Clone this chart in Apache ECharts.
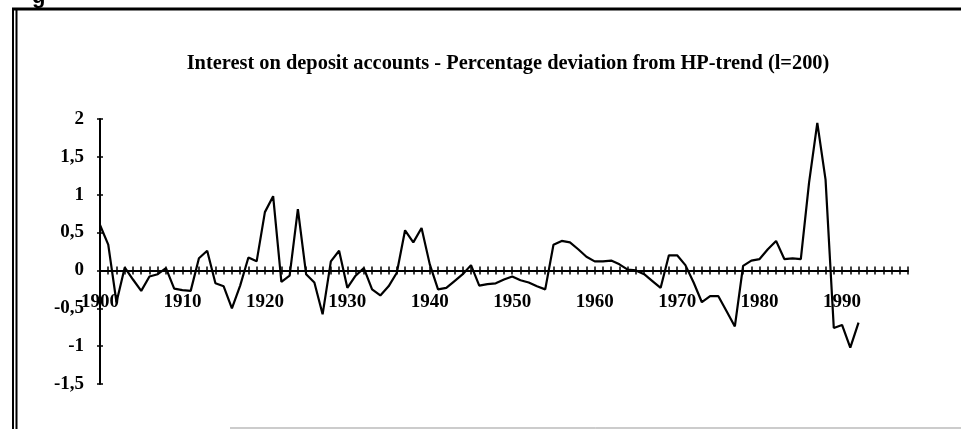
<!DOCTYPE html>
<html><head><meta charset="utf-8">
<script src="https://cdn.jsdelivr.net/npm/echarts@6/dist/echarts.min.js"></script>
<style>html,body{margin:0;padding:0;background:#fff}#c{width:961px;height:429px}</style>
</head><body><div id="c"></div>
<script>
const TITLE = 'Interest on deposit accounts - Percentage deviation from HP-trend (l=200)';
const years = [];
for (let y = 1900; y <= 1992; y++) years.push(y);
const values = [
  0.60, 0.34, -0.42, 0.04, -0.12, -0.27, -0.08, -0.05, 0.03, -0.24,
  -0.26, -0.27, 0.16, 0.26, -0.17, -0.21, -0.50, -0.20, 0.17, 0.12,
  0.77, 0.98, -0.15, -0.07, 0.81, -0.05, -0.16, -0.58, 0.12, 0.26,
  -0.23, -0.07, 0.03, -0.25, -0.33, -0.21, -0.03, 0.53, 0.37, 0.56,
  0.08, -0.25, -0.23, -0.14, -0.05, 0.07, -0.20, -0.18, -0.17, -0.12,
  -0.08, -0.13, -0.16, -0.21, -0.25, 0.34, 0.39, 0.37, 0.28, 0.18,
  0.12, 0.12, 0.13, 0.08, 0.01, 0.00, -0.05, -0.14, -0.23, 0.20,
  0.20, 0.07, -0.16, -0.42, -0.34, -0.34, -0.54, -0.74, 0.06, 0.13,
  0.15, 0.28, 0.39, 0.15, 0.16, 0.15, 1.16, 1.95, 1.20, -0.76,
  -0.72, -1.02, -0.69
];
const xLabels = [1900, 1910, 1920, 1930, 1940, 1950, 1960, 1970, 1980, 1990];
const yTicks = [-1.5, -1, -0.5, 0, 0.5, 1, 1.5, 2];

const serif = '"Liberation Serif", "Times New Roman", serif';
const chart = echarts.init(document.getElementById('c'), null, {renderer: 'canvas'});
const xBase = {
  type: 'value', min: 1900, max: 1998, interval: 1, position: 'bottom',
  splitLine: {show: false}
};
const yBase = {
  type: 'value', min: yTicks[0], max: yTicks[yTicks.length - 1], interval: 0.5, position: 'left',
  splitLine: {show: false}
};
chart.setOption({
  animation: false,
  backgroundColor: '#fff',
  title: {
    text: TITLE, left: 503, textAlign: 'center', top: 49,
    textStyle: {fontFamily: serif, fontWeight: 'bold', fontSize: 20.4, color: '#000'}
  },
  grid: {left: 100, right: 53, top: 119, bottom: 45, containLabel: false, outerBoundsMode: 'none'},
  xAxis: [
    Object.assign({}, xBase, {
      axisLine: {onZero: true, lineStyle: {color: '#000', width: 2}},
      axisTick: {show: true, inside: false, length: 4, lineStyle: {color: '#000', width: 1.5}},
      axisLabel: {
        formatter: v => xLabels.includes(v) ? String(v) : '',
        margin: -91, fontFamily: serif, fontWeight: 'bold', fontSize: 19, color: '#000',
        showMinLabel: true, showMaxLabel: true, hideOverlap: false
      }
    }),
    Object.assign({}, xBase, {
      axisLine: {onZero: true, show: false},
      axisTick: {show: true, inside: true, length: 4, lineStyle: {color: '#000', width: 1.5}},
      axisLabel: {show: false}
    })
  ],
  yAxis: [
    Object.assign({}, yBase, {
      axisLine: {show: true, onZero: false, lineStyle: {color: '#000', width: 2}},
      axisTick: {show: true, inside: false, length: 3, lineStyle: {color: '#000', width: 1.5}},
      axisLabel: {
        formatter: v => String(v).replace('.', ','),
        margin: 16, fontFamily: serif, fontWeight: 'bold', fontSize: 19, color: '#000',
        showMinLabel: true, showMaxLabel: true
      }
    }),
    Object.assign({}, yBase, {
      axisLine: {show: false, onZero: false},
      axisTick: {show: true, inside: true, length: 3, lineStyle: {color: '#000', width: 1.5}},
      axisLabel: {show: false}
    })
  ],
  series: [{
    type: 'line', xAxisIndex: 0, yAxisIndex: 0,
    data: years.map((y, i) => [y, values[i]]),
    symbol: 'none', lineStyle: {color: '#000', width: 2.2}, z: 3
  }],
  graphic: [
    {type: 'line', shape: {x1: 12, y1: 9, x2: 961, y2: 9}, style: {stroke: '#000', lineWidth: 3}},
    {type: 'line', shape: {x1: 13, y1: 8, x2: 13, y2: 429}, style: {stroke: '#000', lineWidth: 2}},
    {type: 'line', shape: {x1: 16.5, y1: 8, x2: 16.5, y2: 429}, style: {stroke: '#000', lineWidth: 2}},
    {type: 'line', shape: {x1: 230, y1: 428, x2: 961, y2: 428}, style: {stroke: '#999', lineWidth: 1}},
    {type: 'text', left: 32, top: -14, style: {text: 'g', fontFamily: '"Liberation Sans", Arial, sans-serif', fontWeight: 'bold', fontSize: 22, fill: '#000'}}
  ]
});
</script>
</body></html>
